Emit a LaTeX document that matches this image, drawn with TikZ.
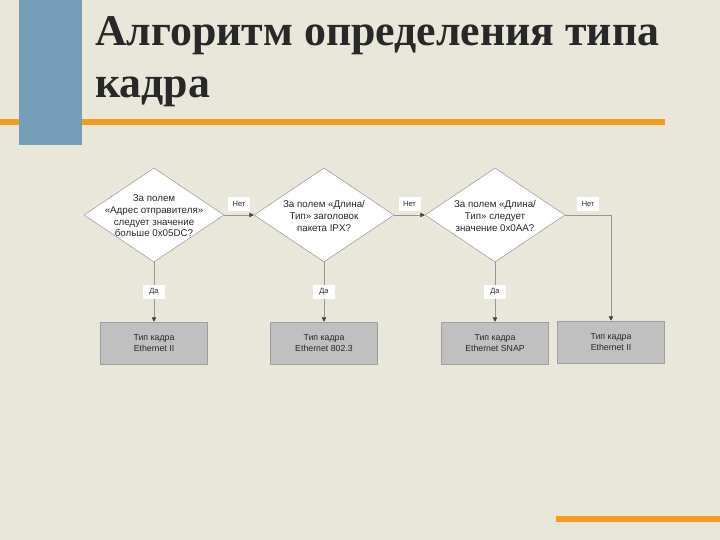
\documentclass[tikz,border=0pt]{standalone}
\usepackage{fontspec}
\setmainfont{Liberation Sans}
\newfontfamily\titlefont{Liberation Serif}
\usetikzlibrary{shapes.geometric,arrows.meta}
\definecolor{bgcol}{RGB}{233,231,218}
\definecolor{orangeline}{RGB}{246,158,28}
\definecolor{bluebar}{RGB}{118,158,182}
\definecolor{linegray}{RGB}{150,150,150}
\definecolor{boxgray}{RGB}{192,192,192}
\definecolor{txt}{RGB}{40,40,40}
\begin{document}
\begin{tikzpicture}[x=1bp,y=-1bp,
  dia/.style={diamond, draw=linegray, line width=0.5bp, fill=white, minimum width=140bp, minimum height=94bp, inner sep=0pt},
  dtext/.style={align=center, text=txt, font=\fontsize{9.8}{11.8}\selectfont, inner sep=0pt},
  box/.style={draw=gray!75, line width=0.5bp, fill=boxgray, minimum width=107bp, minimum height=42bp, align=center, text=txt, font=\fontsize{8.8}{11.6}\selectfont, inner sep=0pt},
  lab/.style={fill=white, text=txt, font=\fontsize{7.5}{8}\selectfont, minimum width=22bp, minimum height=14bp, inner sep=1bp},
  conn/.style={draw=linegray, line width=0.6bp, -{Triangle[length=4.5bp,width=4.5bp,color=black!75]}},
  plain/.style={draw=linegray, line width=0.6bp}
]
\useasboundingbox (0,0) rectangle (720,540);
\fill[bgcol] (0,0) rectangle (720,540);
\fill[orangeline] (0,119) rectangle (665,125);
\fill[bluebar] (19,0) rectangle (82,145);
\fill[orangeline] (556,516) rectangle (720,522);

\node[anchor=base west, inner sep=0pt, text=txt, font=\titlefont\bfseries\fontsize{44}{52}\selectfont] (t1) at (95,46) {Алгоритм определения типа};
\node[anchor=base west, inner sep=0pt, text=txt, font=\titlefont\bfseries\fontsize{44}{52}\selectfont] (t2) at (95,98) {кадра};

\node[dia] (d1) at (154,215) {};
\node[dia] (d2) at (324,215) {};
\node[dia] (d3) at (495,215) {};
\node[dtext] (d1t) at (154,216) {За полем\\«Адрес отправителя»\\следует значение\\больше 0x05DC?};
\node[dtext] (d2t) at (324,216) {За полем «Длина/\\Тип» заголовок\\пакета IPX?};
\node[dtext] (d3t) at (495,216) {За полем «Длина/\\Тип» следует\\значение 0x0AA?};

\node[box] (b1) at (154,343) {Тип кадра\\Ethernet II};
\node[box] (b2) at (324,343) {Тип кадра\\Ethernet 802.3};
\node[box] (b3) at (495,343) {Тип кадра\\Ethernet SNAP};
\node[box] (b4) at (611,342) {Тип кадра\\Ethernet II};

\draw[conn] (d1.east) -- node[lab, above=4bp] {Нет} (d2.west);
\draw[conn] (d2.east) -- node[lab, above=4bp] {Нет} (d3.west);
\draw[conn] (d3.east) -| node[lab, pos=0.25, above=4bp] {Нет} (b4.north);

\draw[conn] (d1.south) -- node[lab] {Да} (b1.north);
\draw[conn] (d2.south) -- node[lab] {Да} (b2.north);
\draw[conn] (d3.south) -- node[lab] {Да} (b3.north);
\end{tikzpicture}
\end{document}
